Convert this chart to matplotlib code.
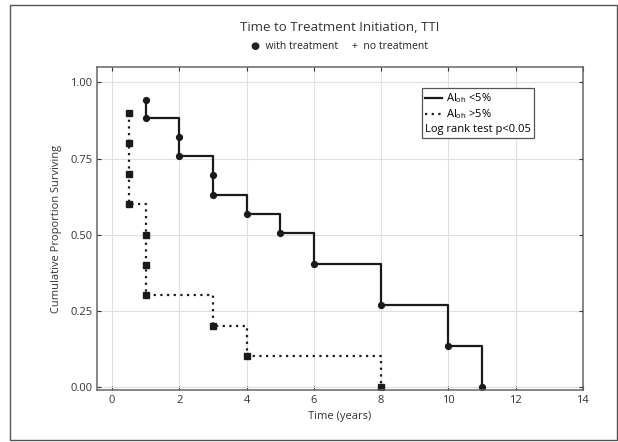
import matplotlib
matplotlib.use("Agg")
import matplotlib.pyplot as plt
from matplotlib.patches import Rectangle
from matplotlib.lines import Line2D

plt.rcParams['font.family'] = ['Open Sans', 'DejaVu Sans']

# AI_oh < 5% group (solid line, circles)
low_t = [1, 1, 2, 2, 3, 3, 4, 5, 6, 8, 10, 11]
low_s = [0.942, 0.882, 0.820, 0.757, 0.695, 0.631, 0.568, 0.504, 0.404, 0.269, 0.135, 0.0]

# AI_oh > 5% group (dotted line, squares)
high_t = [0.5, 0.5, 0.5, 0.5, 1, 1, 1, 3, 4, 8]
high_s = [0.9, 0.8, 0.7, 0.6, 0.5, 0.4, 0.3, 0.2, 0.1, 0.0]

xticks = [0, 2, 4, 6, 8, 10, 12, 14]
yticks = [0.0, 0.25, 0.5, 0.75, 1.0]

fig = plt.figure(figsize=(6.18, 4.42), dpi=100)
fig.patches.append(Rectangle((0.016, 0.005), 0.982, 0.984, transform=fig.transFigure,
                             fill=False, edgecolor='#555555', linewidth=1.0))
ax = fig.add_axes([0.157, 0.118, 0.786, 0.730])

dark = '#1a1a1a'
ax.step(low_t, low_s, where='post', color=dark, linewidth=1.6)
ax.plot(low_t, low_s, 'o', color=dark, markersize=4.2)
ax.step(high_t, high_s, where='post', color=dark, linewidth=1.6, linestyle=(0, (1, 2)))
ax.plot(high_t, high_s, 's', color=dark, markersize=4.2)

ax.set_xlim(-0.45, 14)
ax.set_ylim(-0.01, 1.05)
ax.set_xticks(xticks)
ax.set_yticks(yticks)
ax.set_yticklabels(['%.2f' % v for v in yticks])
ax.grid(True, color='#e0e0e0', linewidth=0.8)
ax.set_axisbelow(True)
ax.tick_params(direction='in', labelsize=8, colors='#333333', length=3,
               right=True, top=True)
for sp in ax.spines.values():
    sp.set_color('#666666')
    sp.set_linewidth(1.1)

ax.set_xlabel('Time (years)', fontsize=8, color='#333333')
ax.set_ylabel('Cumulative Proportion Surviving', fontsize=8, color='#333333', labelpad=6)

fig.text(0.55, 0.930, 'Time to Treatment Initiation, TTI', ha='center',
         fontsize=9.5, color='#333333')
fig.text(0.55, 0.890, '\u25cf  with treatment     +  no treatment', ha='center',
         fontsize=7.5, color='#222222')

handles = [Line2D([], [], color=dark, linewidth=1.6),
           Line2D([], [], color=dark, linewidth=1.6, linestyle=(0, (1, 2))),
           Line2D([], [], color='none')]
labels = [r'Al$_{\mathregular{oh}}$ <5%', r'Al$_{\mathregular{oh}}$ >5%', 'Log rank test p<0.05']
leg = ax.legend(handles, labels, loc='upper right', bbox_to_anchor=(0.900, 0.935),
                fontsize=8, fancybox=False, framealpha=1, edgecolor='#555555',
                handlelength=1.5, handletextpad=0.4, borderpad=0.3, labelspacing=0.2,
                borderaxespad=0)
leg.get_frame().set_linewidth(0.9)
# drop the empty handle of the last row so its text starts at the left edge
try:
    col = leg._legend_handle_box.get_children()[0]
    row = col.get_children()[2]
    row._children = [row._children[1]]
except Exception:
    pass

fig.savefig('out.png', dpi=100)
